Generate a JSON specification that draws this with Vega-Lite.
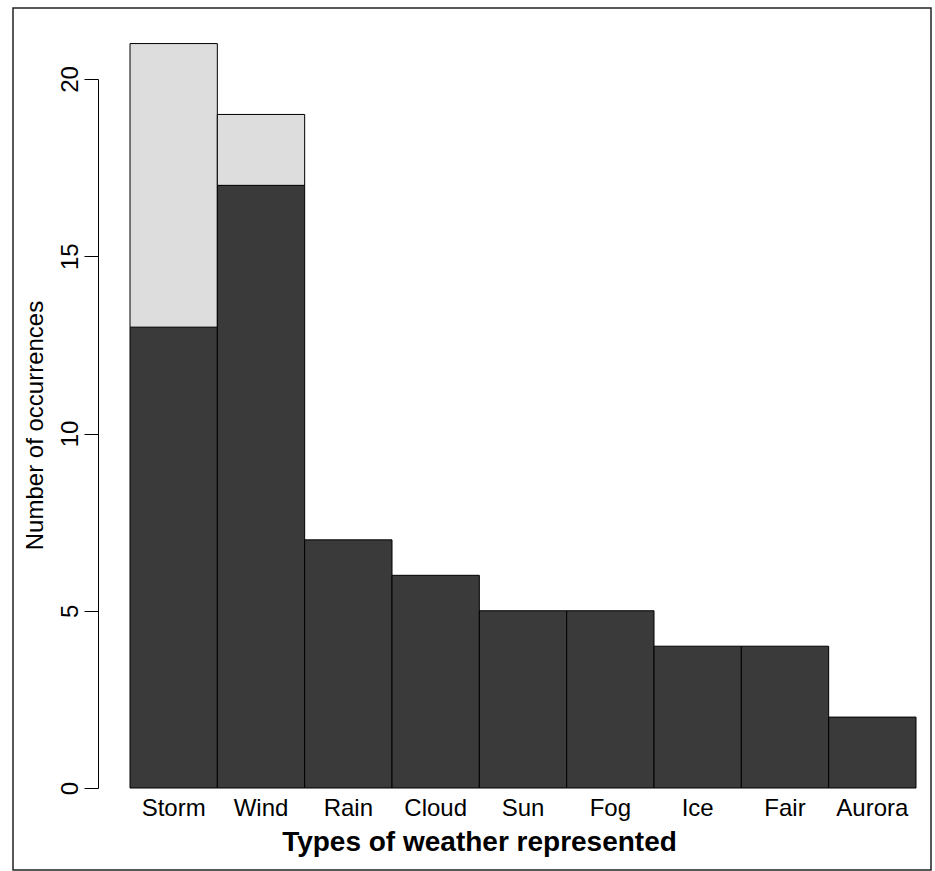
{
  "$schema": "https://vega.github.io/schema/vega-lite/v6.json",
  "autosize": "none",
  "width": 918,
  "height": 862,
  "padding": {"left": 13, "top": 8, "right": 4, "bottom": 1},
  "background": "white",
  "config": {
    "view": {"stroke": "#222222", "strokeWidth": 1.5},
    "font": "Liberation Sans"
  },
  "data": {
    "values": [
      {"weather": "Storm", "part": "base", "ord": 1, "count": 13},
      {"weather": "Storm", "part": "extra", "ord": 2, "count": 8},
      {"weather": "Wind", "part": "base", "ord": 1, "count": 17},
      {"weather": "Wind", "part": "extra", "ord": 2, "count": 2},
      {"weather": "Rain", "part": "base", "ord": 1, "count": 7},
      {"weather": "Cloud", "part": "base", "ord": 1, "count": 6},
      {"weather": "Sun", "part": "base", "ord": 1, "count": 5},
      {"weather": "Fog", "part": "base", "ord": 1, "count": 5},
      {"weather": "Ice", "part": "base", "ord": 1, "count": 4},
      {"weather": "Fair", "part": "base", "ord": 1, "count": 4},
      {"weather": "Aurora", "part": "base", "ord": 1, "count": 2}
    ]
  },
  "mark": {"type": "bar", "stroke": "#000000", "strokeWidth": 1, "clip": false},
  "encoding": {
    "x": {
      "field": "weather",
      "type": "nominal",
      "sort": ["Storm", "Wind", "Rain", "Cloud", "Sun", "Fog", "Ice", "Fair", "Aurora"],
      "scale": {"range": [117, 903], "paddingInner": 0, "paddingOuter": 0},
      "axis": {
        "title": "Types of weather represented",
        "titleFontSize": 28,
        "titleFontWeight": "bold",
        "titleColor": "#000000",
        "titleX": 466,
        "titleY": 40,
        "titleAlign": "center",
        "titleBaseline": "top",
        "titleAnchor": null,
        "offset": -82,
        "domain": false,
        "ticks": false,
        "tickSize": 0,
        "labelPadding": 8,
        "labelAngle": 0,
        "labelAlign": "center",
        "labelBaseline": "top",
        "labelFontSize": 24,
        "labelColor": "#000000",
        "grid": false
      }
    },
    "y": {
      "field": "count",
      "type": "quantitative",
      "stack": "zero",
      "scale": {"domain": [0, 20], "range": [780, 71], "nice": false, "zero": true},
      "axis": {
        "title": "Number of occurrences",
        "titleFontSize": 24,
        "titleFontWeight": "normal",
        "titleColor": "#000000",
        "titleAngle": 270,
        "titleX": -56,
        "titleY": 417,
        "titleAlign": "center",
        "titleBaseline": "alphabetic",
        "titleAnchor": null,
        "offset": -85,
        "values": [0, 5, 10, 15, 20],
        "domainColor": "#000000",
        "domainWidth": 1,
        "tickColor": "#000000",
        "tickWidth": 1,
        "tickSize": 14,
        "labelPadding": 7,
        "labelAngle": 270,
        "labelAlign": "center",
        "labelBaseline": "alphabetic",
        "labelFontSize": 24,
        "labelColor": "#000000",
        "grid": false
      }
    },
    "color": {
      "field": "part",
      "type": "nominal",
      "scale": {"domain": ["base", "extra"], "range": ["#3a3a3a", "#dddddd"]},
      "legend": null
    },
    "order": {"field": "ord", "type": "quantitative"}
  }
}
